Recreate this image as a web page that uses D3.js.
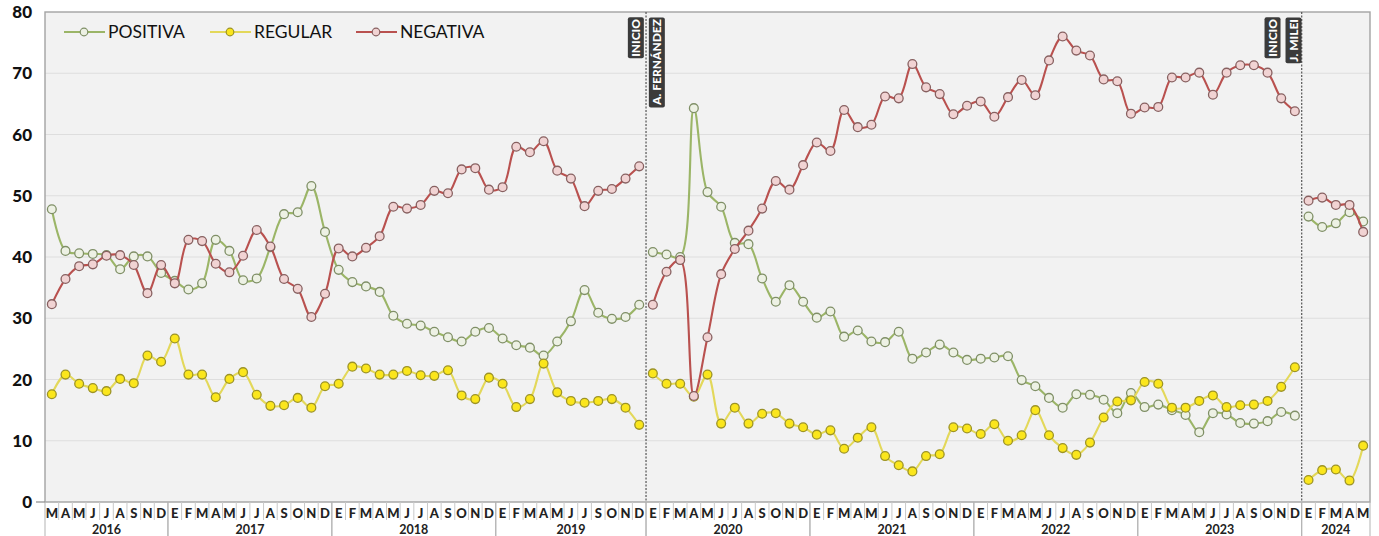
<!DOCTYPE html>
<html><head><meta charset="utf-8">
<script src="https://cdn.jsdelivr.net/npm/d3@7"></script>
<style>
body{margin:0;background:#fff;}
svg{display:block;font-family:Lato,"Open Sans","Noto Sans",sans-serif;}
</style>
</head><body>
<svg id="chart" width="1379" height="536"></svg>
<script>
// ---------------- DATA ----------------
const years = ["2016","2017","2018","2019","2020","2021","2022","2023","2024"];
const monthsPerYear = [
  ["M","A","M","J","J","A","S","N","D"],
  ["E","F","M","A","M","J","J","A","S","O","N","D"],
  ["E","F","M","A","M","J","J","A","S","O","N","D"],
  ["E","F","M","A","M","J","J","S","O","N","D"],
  ["E","F","M","A","M","J","J","A","S","O","N","D"],
  ["E","F","M","A","M","J","J","A","S","O","N","D"],
  ["E","F","M","A","M","J","J","A","S","O","N","D"],
  ["E","F","M","A","M","J","J","A","S","O","N","D"],
  ["E","F","M","A","M"]
];
const seriesNames = ["POSITIVA","REGULAR","NEGATIVA"];
const positiva = [
  47.8,41.0,40.6,40.5,40.3,38.0,40.1,40.1,37.4,
  36.1,34.7,35.7,42.8,41.0,36.2,36.5,41.6,47.0,47.3,51.6,44.1,
  37.9,35.9,35.2,34.3,30.4,29.1,28.8,27.8,26.9,26.2,27.8,28.4,
  26.7,25.6,25.2,23.9,26.2,29.5,34.6,30.9,29.9,30.2,32.2,
  40.8,40.4,40.0,64.3,50.6,48.2,42.3,42.1,36.5,32.7,35.4,32.7,
  30.1,31.1,27.0,28.0,26.2,26.1,27.8,23.4,24.4,25.7,24.4,23.2,
  23.4,23.6,23.8,19.9,18.9,17.0,15.4,17.6,17.5,16.7,14.5,17.8,
  15.5,15.9,15.0,14.2,11.4,14.5,14.3,12.9,12.8,13.2,14.7,14.1,
  46.6,44.9,45.5,47.3,45.8
];
const regular = [
  17.6,20.8,19.3,18.6,18.1,20.1,19.4,23.9,22.9,
  26.7,20.8,20.8,17.1,20.1,21.2,17.5,15.7,15.8,17.0,15.4,18.9,
  19.3,22.1,21.8,20.8,20.8,21.4,20.7,20.6,21.5,17.4,16.8,20.3,
  19.3,15.5,16.8,22.6,17.9,16.5,16.2,16.5,16.8,15.4,12.6,
  21.0,19.3,19.3,17.2,20.8,12.8,15.4,12.8,14.4,14.5,12.8,12.2,
  11.0,11.7,8.7,10.5,12.2,7.5,6.0,5.0,7.5,7.8,12.2,12.0,
  11.1,12.7,10.0,10.9,15.0,10.9,8.8,7.7,9.7,13.8,16.4,16.6,
  19.6,19.3,15.4,15.4,16.5,17.4,15.5,15.8,15.9,16.5,18.8,22.0,
  3.6,5.2,5.3,3.5,9.2
];
const negativa = [
  32.3,36.4,38.5,38.8,40.2,40.3,38.7,34.1,38.7,
  35.7,42.8,42.6,38.9,37.5,40.2,44.4,41.7,36.4,34.8,30.2,34.0,
  41.4,40.1,41.5,43.4,48.2,47.9,48.5,50.8,50.4,54.3,54.5,51.0,
  51.4,58.0,57.1,58.9,54.1,52.8,48.3,50.8,51.1,52.8,54.8,
  32.2,37.6,39.5,17.3,26.9,37.2,41.3,44.3,47.9,52.4,51.0,55.0,
  58.7,57.3,64.0,61.2,61.6,66.2,65.9,71.5,67.7,66.6,63.3,64.7,
  65.4,62.9,66.1,68.9,66.4,72.1,76.0,73.7,72.9,69.0,68.7,63.4,
  64.4,64.5,69.3,69.3,70.1,66.5,70.1,71.3,71.3,70.1,65.9,63.8,
  49.2,49.7,48.5,48.5,44.1
];
const yTicks = [0,10,20,30,40,50,60,70,80];
const termStarts = ["2020|0","2024|0"];
const termLabels = [["INICIO","A. FERNÁNDEZ"],["INICIO","J. MILEI"]];

// ---------------- BUILD ----------------
const keys = [], monthLabel = {}, yearOf = {};
years.forEach((y,i)=>monthsPerYear[i].forEach((m,j)=>{
  const k = y+"|"+j; keys.push(k); monthLabel[k]=m; yearOf[k]=y;
}));

const svg = d3.select("#chart");
const L=45, R=1370, T=12, B=502;
const x = d3.scaleBand().domain(keys).range([L,R]).padding(0);
const y = d3.scaleLinear().domain([0,80]).range([B,T]);
const cx = k => x(k)+x.bandwidth()/2;

// plot background
svg.append("rect").attr("x",L).attr("y",T).attr("width",R-L).attr("height",B-T).attr("fill","#f2f2f2");
// gridlines
svg.append("g").selectAll("line").data(yTicks.filter(t=>t>0&&t<80)).join("line")
  .attr("x1",L).attr("x2",R).attr("y1",d=>y(d)).attr("y2",d=>y(d))
  .attr("stroke","#dedede").attr("stroke-width",1);
// border
svg.append("rect").attr("x",L).attr("y",T).attr("width",R-L).attr("height",B-T)
  .attr("fill","none").attr("stroke","#a3a3a3").attr("stroke-width",1.4);
svg.append("line").attr("x1",36).attr("x2",L).attr("y1",B).attr("y2",B).attr("stroke","#8a8a8a").attr("stroke-width",1.2);

// y labels
svg.append("g").selectAll("text").data(yTicks).join("text")
  .attr("x",32).attr("y",d=>y(d)).attr("text-anchor","end").attr("dy","0.36em")
  .attr("font-size",17).attr("font-weight","900").attr("fill","#111").text(d=>d);

// x axis: month separators
const gx = svg.append("g");
keys.forEach((k,i)=>{
  if(i>0 && yearOf[k]===yearOf[keys[i-1]]){
    gx.append("line").attr("x1",x(k)).attr("x2",x(k)).attr("y1",B).attr("y2",520)
      .attr("stroke","#c9c9c9").attr("stroke-width",1);
  }
});
// year separators
const yearBounds = years.map(yr=>{
  const ks = keys.filter(k=>yearOf[k]===yr);
  return {yr, x0:x(ks[0]), x1:x(ks[ks.length-1])+x.bandwidth()};
});
yearBounds.forEach(b=>{
  [b.x0,b.x1].forEach(xx=>gx.append("line").attr("x1",xx).attr("x2",xx).attr("y1",B).attr("y2",536)
     .attr("stroke","#b3b3b3").attr("stroke-width",1));
});
gx.selectAll("text.m").data(keys).join("text").attr("class","m")
  .attr("x",cx).attr("y",513).attr("dy","0.36em").attr("text-anchor","middle")
  .attr("font-size",13).attr("font-weight","900").attr("fill","#222").text(k=>monthLabel[k]);
gx.selectAll("text.y").data(yearBounds).join("text").attr("class","y")
  .attr("x",d=>(d.x0+d.x1)/2).attr("y",529).attr("dy","0.36em").attr("text-anchor","middle")
  .attr("font-size",12.5).attr("font-weight","bold").attr("fill","#222").text(d=>d.yr);

// term lines + labels
const labelOffsets = [[-10,11],[-29,-8]];
termStarts.forEach((k,i)=>{
  const xx = x(k);
  svg.append("line").attr("x1",xx).attr("x2",xx).attr("y1",T).attr("y2",B)
    .attr("stroke","#555").attr("stroke-width",1.2).attr("stroke-dasharray","2,1.5");
  termLabels[i].forEach((t,j)=>{
    const g = svg.append("g").attr("transform",`translate(${xx+labelOffsets[i][j]},${T+7}) rotate(-90)`);
    const tx = g.append("text").attr("x",0).attr("y",0).attr("dy","0.36em").attr("text-anchor","end")
      .attr("font-size",12).attr("font-weight","900").attr("fill","#fff").text(t);
    const bb = tx.node().getBBox();
    g.insert("rect","text").attr("x",bb.x-1.5).attr("y",bb.y-0.5).attr("width",bb.width+3).attr("height",bb.height+1)
      .attr("rx",2).attr("fill","#3b3b3b");
  });
});

// series
const series = [
  {name:seriesNames[0], values:positiva, line:"#9bb567", fill:"#edf1e4", stroke:"#7f8f66"},
  {name:seriesNames[1], values:regular,  line:"#e3d85a", fill:"#fbe61c", stroke:"#9c9326"},
  {name:seriesNames[2], values:negativa, line:"#b9514f", fill:"#f1d3d3", stroke:"#876060"}
];
const breaks = [0, ...termStarts.map(k=>keys.indexOf(k)), keys.length];
const segments = d3.range(breaks.length-1).map(i=>[breaks[i],breaks[i+1]]);
const lineGen = d3.line().x(d=>cx(d.k)).y(d=>y(d.v)).curve(d3.curveCatmullRom.alpha(0.5));

series.forEach(s=>{
  const pts = keys.map((k,i)=>({k, v:s.values[i]}));
  const g = svg.append("g");
  segments.forEach(([a,b])=>{
    g.append("path").attr("d",lineGen(pts.slice(a,b))).attr("fill","none")
      .attr("stroke",s.line).attr("stroke-width",2.1);
  });
  g.selectAll("circle").data(pts).join("circle")
    .attr("cx",d=>cx(d.k)).attr("cy",d=>y(d.v)).attr("r",4.4)
    .attr("fill",s.fill).attr("stroke",s.stroke).attr("stroke-width",1.3);
});

// legend
const legX = [64,210,356];
const lg = svg.append("g");
series.forEach((s,i)=>{
  const x0 = legX[i];
  lg.append("line").attr("x1",x0).attr("x2",x0+41).attr("y1",32).attr("y2",32).attr("stroke",s.line).attr("stroke-width",2);
  lg.append("circle").attr("cx",x0+20).attr("cy",32).attr("r",3.8).attr("fill",s.fill).attr("stroke",s.stroke).attr("stroke-width",1.2);
  lg.append("text").attr("x",x0+44).attr("y",32).attr("dy","0.36em").attr("font-size",17.5).attr("fill","#111").text(s.name);
});
</script>
</body></html>
